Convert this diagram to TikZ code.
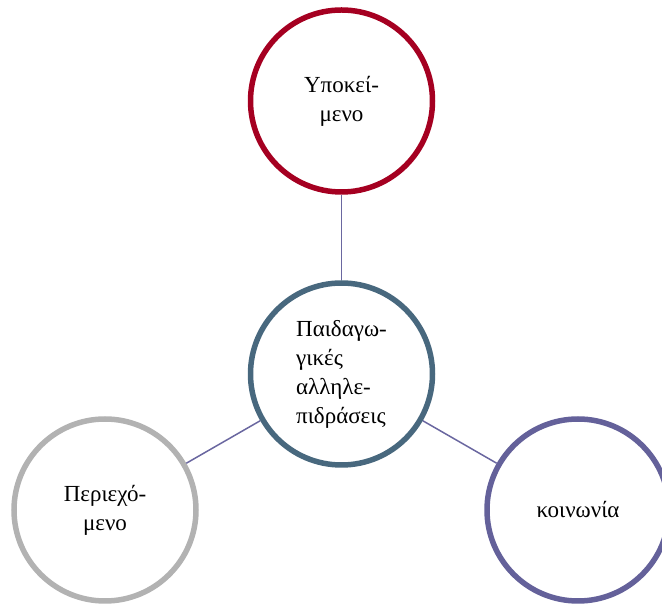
\documentclass[tikz,border=0pt]{standalone}
\usepackage{fontspec}
\setmainfont{Liberation Serif}
\definecolor{cred}{HTML}{A50021}
\definecolor{cslate}{HTML}{48687E}
\definecolor{cgray}{HTML}{B2B2B2}
\definecolor{cpurple}{HTML}{64619A}
\definecolor{clink}{HTML}{6A67A0}
\begin{document}
\begin{tikzpicture}[x=1pt,y=1pt,
  bubble/.style={circle,line width=5.5pt,minimum size=182pt,inner sep=0pt,fill=white,
    font=\fontsize{23}{29}\selectfont},
  link/.style={draw=clink,line width=1.5pt}]
\useasboundingbox (0,0) rectangle (662,605);
\clip (0,0) rectangle (662,605);
\node[bubble,draw=cred,align=center] (top) at (341.5,504) {Υποκεί-\\μενο};
\node[bubble,draw=cslate,align=left] (mid) at (341.5,231) {Παιδαγω-\\γικές\\αλληλε-\\πιδράσεις};
\node[bubble,draw=cgray,align=center] (left) at (105,95) {Περιεχό-\\μενο};
\node[bubble,draw=cpurple,align=center] (right) at (578,95) {κοινωνία};
\draw[link] (top) -- (mid);
\draw[link] (mid) -- (left);
\draw[link] (mid) -- (right);
\end{tikzpicture}
\end{document}
